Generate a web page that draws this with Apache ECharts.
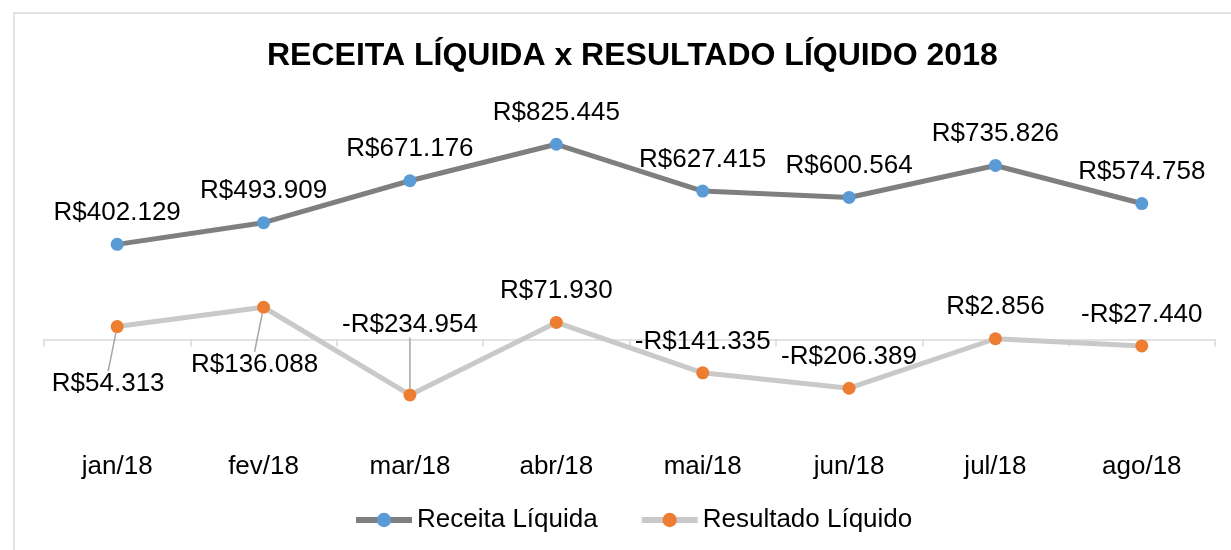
<!DOCTYPE html>
<html>
<head>
<meta charset="utf-8">
<script src="https://cdn.jsdelivr.net/npm/echarts@6/dist/echarts.min.js"></script>
<style>
  html, body { margin: 0; padding: 0; background: #fff; }
  #chart { width: 1231px; height: 550px; }
</style>
</head>
<body>
<div id="chart"></div>
<script>
  // data
  var months = ["jan/18", "fev/18", "mar/18", "abr/18", "mai/18", "jun/18", "jul/18", "ago/18"];
  var receita = [402129, 493909, 671176, 825445, 627415, 600564, 735826, 574758];
  var resultado = [54313, 136088, -234954, 71930, -141335, -206389, 2856, -27440];

  var FONT = '"Liberation Sans", Arial, sans-serif';

  function brl(v) {
    var s = Math.abs(v).toString().replace(/\B(?=(\d{3})+(?!\d))/g, ".");
    return (v < 0 ? "-" : "") + "R$" + s;
  }

  // label nudges for the second series (index -> [dx, dy]); the rest sit on top
  var resShift = { 0: [-9, 89], 1: [-9, 89], 2: [0, -39] };
  var leader = { 0: true, 1: true, 2: true };

  var labelStyle = {
    show: true, position: "top", distance: 12,
    fontFamily: FONT, fontSize: 26, color: "#000",
    formatter: function (p) { return brl(p.value); }
  };

  var option = {
    animation: false,
    textStyle: { fontFamily: FONT },
    graphic: [{
      type: "rect", silent: true,
      shape: { x: 14, y: 13, width: 1240, height: 560 },
      style: { fill: "none", stroke: "#d9d9d9", lineWidth: 1.5 }
    }],
    title: {
      text: "RECEITA LÍQUIDA x RESULTADO LÍQUIDO 2018",
      left: 267, top: 40, padding: 0,
      textStyle: { fontFamily: FONT, fontSize: 32, fontWeight: "bold", color: "#000" }
    },
    legend: {
      left: 353, top: 507, padding: 0,
      itemWidth: 56, itemHeight: 18, itemGap: 41,
      lineStyle: { width: 6 },
      textStyle: { fontFamily: FONT, fontSize: 26, color: "#000" },
      data: ["Receita Líquida", "Resultado Líquido"]
    },
    grid: { left: 44, right: 16, top: 103, height: 331, containLabel: false },
    xAxis: [{
      type: "category", data: months, boundaryGap: true,
      axisLine: { onZero: true, lineStyle: { color: "#d9d9d9", width: 1.5 } },
      axisTick: { show: true, length: 7, lineStyle: { color: "#d9d9d9", width: 1.5 } },
      axisLabel: { show: false }
    }, {
      type: "category", data: months, boundaryGap: true, position: "bottom",
      axisLine: { show: false, onZero: false },
      axisTick: { show: false },
      axisLabel: { margin: 20, fontFamily: FONT, fontSize: 26, color: "#000" }
    }],
    yAxis: {
      type: "value", min: -400000, max: 1000000, show: false,
      splitLine: { show: false }
    },
    series: [{
      name: "Receita Líquida", type: "line", xAxisIndex: 0,
      data: receita,
      symbol: "circle", symbolSize: 13,
      itemStyle: { color: "#5b9bd5" },
      lineStyle: { color: "#7f7f7f", width: 5 },
      label: labelStyle,
      z: 3
    }, {
      name: "Resultado Líquido", type: "line", xAxisIndex: 0,
      data: resultado.map(function (v, i) {
        return { value: v, labelLine: { show: !!leader[i] } };
      }),
      symbol: "circle", symbolSize: 13,
      itemStyle: { color: "#ed7d31" },
      lineStyle: { color: "#c9c9c9", width: 5 },
      label: labelStyle,
      labelLine: { show: false, lineStyle: { color: "#a6a6a6", width: 1.5 } },
      labelLayout: function (p) {
        var s = resShift[p.dataIndex];
        return s ? { dx: s[0], dy: s[1] } : {};
      },
      z: 2
    }]
  };

  var chart = echarts.init(document.getElementById("chart"), null, { renderer: "canvas" });
  chart.setOption(option);
</script>
</body>
</html>
